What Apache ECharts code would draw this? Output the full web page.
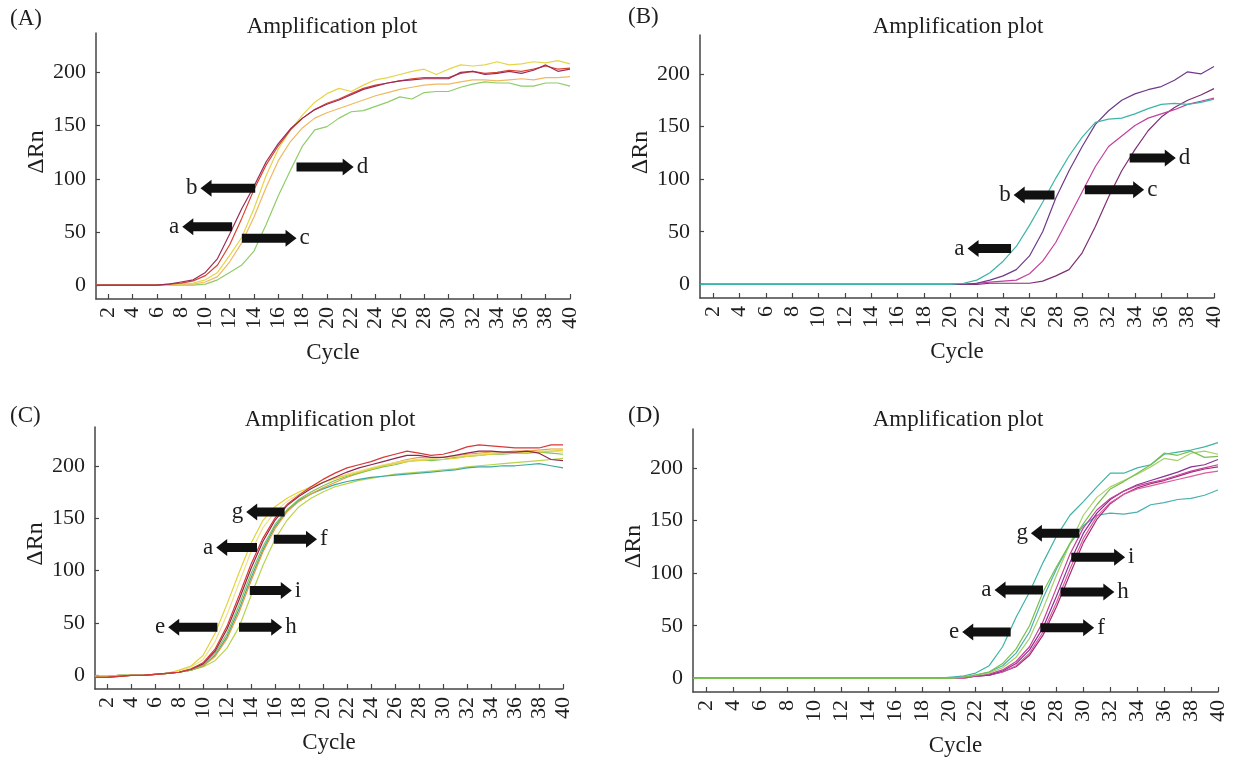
<!DOCTYPE html>
<html><head><meta charset="utf-8">
<script src="https://cdn.jsdelivr.net/npm/echarts@6/dist/echarts.min.js"></script>
<style>html,body{margin:0;padding:0;background:#fff}#c{width:1235px;height:760px}</style>
</head><body><div id="c"></div><script>
// ---------- data ----------
const cycles = [1,2,3,4,5,6,7,8,9,10,11,12,13,14,15,16,17,18,19,20,21,22,23,24,25,26,27,28,29,30,31,32,33,34,35,36,37,38,39,40];
const xTicks = [2,4,6,8,10,12,14,16,18,20,22,24,26,28,30,32,34,36,38,40];
const yTicks = [0,50,100,150,200];
const panelLetters = ['(A)','(B)','(C)','(D)'];
const plotTitle = 'Amplification plot';
const xName = 'Cycle';
const yName = 'ΔRn';

// Panel A curves
const aMaroon = [0,0,0,0,0,0,1,3,5,12,25,48,72,93,116,133,147,157,165,170,174,179,184,187,190,192,193,194,194,194,200,201,198,199,201,199,202,207,201,203];
const aRed    = [0,0,0,0,0,0,1,2,4,9,19,38,63,90,113,131,146,157,165,171,175,180,185,188,190,192,194,195,195,195,199,201,199,200,202,201,203,206,203,204];
const aYellow = [0,0,0,0,0,0,0,1,2,5,12,28,45,72,103,128,146,160,172,180,185,182,188,193,195,198,201,203,198,203,207,206,207,210,207,208,210,209,211,208];
const aOrange = [0,0,0,0,0,0,0,1,1,3,8,22,40,64,92,117,135,148,157,162,166,170,174,178,181,184,186,188,189,189,191,193,193,192,193,194,193,195,195,196];
const aGreen  = [0,0,0,0,0,0,0,0,0,1,5,12,19,32,57,84,108,131,146,149,157,163,164,168,172,177,175,181,182,182,186,189,191,190,190,187,187,190,190,187];

// Panel B curves
const bTeal    = [0,0,0,0,0,0,0,0,0,0,0,0,0,0,0,0,0,0,0,0,1,4,11,22,36,56,78,101,122,140,154,157,158,162,167,171,172,171,173,176];
const bPurple  = [0,0,0,0,0,0,0,0,0,0,0,0,0,0,0,0,0,0,0,0,0,1,4,8,14,27,50,82,108,131,152,165,175,181,185,188,194,202,200,207];
const bMagenta = [0,0,0,0,0,0,0,0,0,0,0,0,0,0,0,0,0,0,0,0,0,1,2,3,4,10,22,40,64,88,112,131,141,151,158,162,166,171,174,177];
const bDark    = [0,0,0,0,0,0,0,0,0,0,0,0,0,0,0,0,0,0,0,0,0,0,1,1,1,1,3,8,14,30,55,83,108,128,146,159,168,175,180,186];

// Panel C curves
const cYellow  = [-1,-1,-1,0,0,1,2,5,9,19,40,68,98,126,148,161,169,175,180,184,188,191,194,197,200,202,204,205,206,206,207,209,210,211,212,212,213,213,214,215];
const cLight   = [-1,-1,-1,0,0,1,2,4,8,15,32,58,88,118,141,156,166,173,179,184,188,192,195,198,201,203,205,206,207,208,209,210,211,212,212,213,213,214,214,213];
const cRed     = [-2,-2,-1,0,0,1,2,3,6,12,25,47,76,106,131,150,163,172,180,187,193,198,201,204,208,211,214,212,210,211,214,218,220,219,218,217,217,217,220,220];
const cMaroon  = [-2,-2,-1,0,0,1,2,3,6,11,23,44,72,102,128,148,162,171,178,184,189,194,198,201,204,207,210,210,208,208,210,212,214,214,213,213,214,212,206,205];
const cGreen   = [-1,-1,0,0,0,1,2,3,5,10,21,40,67,97,123,144,158,168,175,181,186,190,193,196,199,201,204,206,205,206,208,209,210,211,211,212,212,213,212,211];
const cTeal    = [-1,-1,0,0,0,1,2,3,5,9,19,37,63,93,120,142,157,167,173,178,182,185,187,189,190,191,192,193,194,195,196,198,199,199,200,200,201,202,200,198];
const cOrange  = [-1,-1,0,0,0,1,2,3,5,9,18,35,60,90,118,140,156,166,173,179,184,189,193,197,200,203,206,208,207,208,209,211,212,213,213,214,214,215,216,216];
const cYG      = [-1,-1,0,0,0,1,2,3,5,8,14,26,46,76,105,130,148,161,169,175,180,183,186,188,190,192,193,194,195,196,197,199,200,201,202,203,204,205,206,207];

// Panel D curves
const dTeal1  = [0,0,0,0,0,0,0,0,0,0,0,0,0,0,0,0,0,0,0,1,2,5,12,30,58,82,110,135,155,168,182,195,195,200,203,213,215,217,220,224];
const dGreen1 = [0,0,0,0,0,0,0,0,0,0,0,0,0,0,0,0,0,0,0,0,1,3,6,14,28,50,82,106,128,147,165,180,187,195,203,214,212,216,210,211];
const dGreen2 = [0,0,0,0,0,0,0,0,0,0,0,0,0,0,0,0,0,0,0,0,1,3,5,10,20,38,66,98,128,155,172,182,188,194,201,209,207,214,216,213];
const dTeal2  = [0,0,0,0,0,0,0,0,0,0,0,0,0,0,0,0,0,0,0,0,1,3,6,12,24,44,76,104,128,145,155,157,156,158,165,167,170,171,174,179];
const dP1     = [0,0,0,0,0,0,0,0,0,0,0,0,0,0,0,0,0,0,0,0,1,2,4,8,16,30,54,86,118,143,160,171,178,183,186,189,193,197,200,203];
const dP2     = [0,0,0,0,0,0,0,0,0,0,0,0,0,0,0,0,0,0,0,0,1,2,3,7,14,27,48,78,110,138,157,170,178,184,188,192,196,201,203,208];
const dP3     = [0,0,0,0,0,0,0,0,0,0,0,0,0,0,0,0,0,0,0,0,0,2,3,6,12,24,44,72,104,133,154,167,175,180,183,186,189,192,195,197];
const dP4     = [0,0,0,0,0,0,0,0,0,0,0,0,0,0,0,0,0,0,0,0,0,2,3,6,11,22,41,68,99,129,151,166,175,181,185,188,192,196,199,201];

// Arrow annotations (data space): label, tail cycle, tip cycle, ΔRn level
const arrowsA = [['a',12.2,8.1,55],['b',14.1,9.6,91],['c',13.0,17.5,44],['d',17.5,22.2,111]];
const arrowsB = [['a',24.6,21.3,34],['b',27.9,24.8,85],['c',30.2,34.7,90],['d',33.6,37.1,120]];
const arrowsC = [['g',16.8,13.6,156],['a',14.5,11.1,122],['f',15.9,19.5,130],['i',13.9,17.4,81],['e',11.2,7.1,46],['h',13.0,16.6,46]];
const arrowsD = [['g',29.7,26.1,138],['i',29.1,33.1,115],['a',27.0,23.4,84],['h',28.3,32.3,82],['e',24.6,21.0,44],['f',26.8,30.8,48]];

// ---------- styling / layout ----------
const FONT = '"Liberation Serif","DejaVu Serif","Times New Roman",serif';
const TXT = '#1e1e1e';
const AX = '#454545';
const panels = [
  {grid:{left:96, top:33, width:474, height:266}, titleX:332, titleY:15, letterX:10, letterY:7,
   curves:[[aGreen,'#8fcc6a'],[aOrange,'#f0b860'],[aYellow,'#e4d648'],[aRed,'#d8452e'],[aMaroon,'#9a2c5a']], arrows:arrowsA},
  {grid:{left:700, top:35, width:514, height:263}, titleX:958, titleY:15, letterX:628, letterY:5,
   curves:[[bDark,'#7d2f74'],[bMagenta,'#c2409e'],[bPurple,'#6e3a8c'],[bTeal,'#3bb5a5']], arrows:arrowsB},
  {grid:{left:95, top:427, width:468, height:262}, titleX:330, titleY:408, letterX:10, letterY:404,
   curves:[[cYG,'#b8d44a'],[cTeal,'#3aa8a0'],[cOrange,'#e89a3c'],[cGreen,'#7cc454'],[cLight,'#eee08a'],[cYellow,'#e2d23a'],[cMaroon,'#8c2850'],[cRed,'#d83838']], arrows:arrowsC},
  {grid:{left:693, top:429, width:525, height:263}, titleX:958, titleY:408, letterX:628, letterY:404,
   curves:[[dTeal2,'#4ab0b0'],[dP4,'#a02c78'],[dP3,'#dc5c9c'],[dP2,'#8a3094'],[dP1,'#c8409a'],[dTeal1,'#3cb4a4'],[dGreen2,'#a8d068'],[dGreen1,'#78c050']], arrows:arrowsD}
];

const option = {
  backgroundColor:'#fff', animation:false,
  title:[], grid:[], xAxis:[], yAxis:[], series:[]
};

function arrowRenderer(list) {
  return function (params, api) {
    const t = api.coord([api.value(0), api.value(2)]);
    const h = api.coord([api.value(1), api.value(2)]);
    const y = t[1];
    const dir = h[0] > t[0] ? 1 : -1;
    const hl = 11, sw = 4.5, hw = 8.5;
    const bx = h[0] - dir * hl;
    return {
      type:'group',
      children:[
        {type:'polygon', shape:{points:[[t[0], y - sw],[bx, y - sw],[bx, y - hw],[h[0], y],[bx, y + hw],[bx, y + sw],[t[0], y + sw]]},
         style:{fill:'#111'}},
        {type:'text', style:{text:list[params.dataIndex][0], x:h[0] + dir * 3, y:y,
          align: dir > 0 ? 'left' : 'right', verticalAlign:'middle',
          fontSize:23, fontFamily:FONT, fill:TXT}}
      ]
    };
  };
}

panels.forEach((p, i) => {
  option.grid.push(Object.assign({containLabel:false}, p.grid));
  option.title.push({text:plotTitle, left:p.titleX, top:p.titleY, textAlign:'center', padding:0,
    textStyle:{fontSize:23, fontWeight:'normal', fontFamily:FONT, color:TXT}});
  option.title.push({text:panelLetters[i], left:p.letterX, top:p.letterY, padding:0,
    textStyle:{fontSize:23, fontWeight:'normal', fontFamily:FONT, color:TXT}});
  option.xAxis.push({
    gridIndex:i, type:'value', min:1, max:40,
    axisLine:{onZero:false, lineStyle:{color:AX, width:1.5}},
    axisTick:{inside:true, length:5, customValues:xTicks, lineStyle:{color:AX, width:1.2}},
    axisLabel:{customValues:xTicks, rotate:90, fontSize:22, fontFamily:FONT, color:TXT, margin:8},
    splitLine:{show:false},
    name:xName, nameLocation:'middle', nameGap:42,
    nameTextStyle:{fontSize:23, fontFamily:FONT, color:TXT}
  });
  option.yAxis.push({
    gridIndex:i, type:'value', min:-13, max:237,
    axisLine:{show:true, onZero:false, lineStyle:{color:AX, width:1.5}},
    axisTick:{show:true, inside:true, length:4, customValues:yTicks, lineStyle:{color:AX, width:1.2}},
    axisLabel:{customValues:yTicks, fontSize:22, fontFamily:FONT, color:TXT, margin:10},
    splitLine:{show:false},
    name:yName, nameLocation:'middle', nameGap:34,
    nameTextStyle:{fontSize:24, fontFamily:FONT, color:TXT, padding:[0,0,0,28]}
  });
  p.curves.forEach((c) => {
    option.series.push({
      type:'line', xAxisIndex:i, yAxisIndex:i, showSymbol:false, symbol:'none',
      data: cycles.map((cy, j) => [cy, c[0][j]]),
      lineStyle:{color:c[1], width:1.2}, itemStyle:{color:c[1]},
      silent:true, z:2
    });
  });
  option.series.push({
    type:'custom', xAxisIndex:i, yAxisIndex:i, silent:true, clip:false, z:10,
    encode:{x:[0,1], y:2},
    data: p.arrows.map(a => [a[1], a[2], a[3]]),
    renderItem: arrowRenderer(p.arrows)
  });
});

const chart = echarts.init(document.getElementById('c'), null, {renderer:'canvas'});
chart.setOption(option);
</script></body></html>
